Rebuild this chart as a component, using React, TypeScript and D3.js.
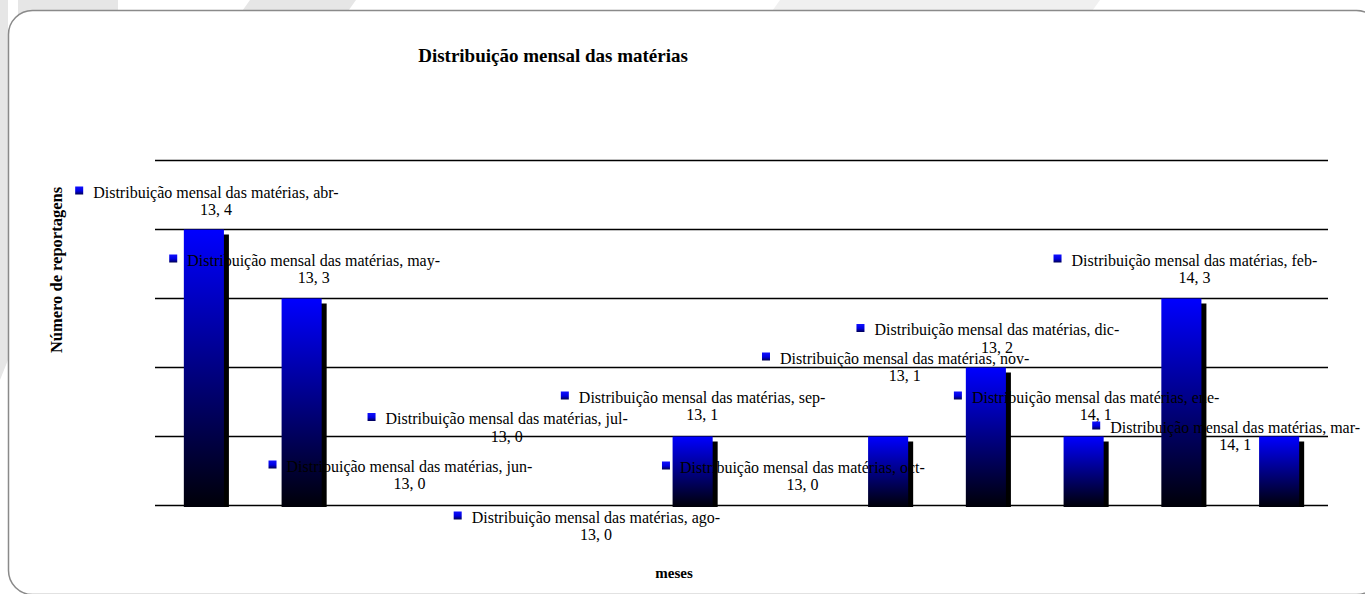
import React, { useEffect, useRef } from 'react';
import * as d3 from 'd3';

const months = ['abr-13', 'may-13', 'jun-13', 'jul-13', 'ago-13', 'sep-13', 'oct-13', 'nov-13', 'dic-13', 'ene-14', 'feb-14', 'mar-14'];
const values = [4, 3, 0, 0, 0, 1, 0, 1, 2, 1, 3, 1];
const seriesName = 'Distribuição mensal das matérias';
const yTicks = [0, 1, 2, 3, 4, 5];
const chartTitle = 'Distribuição mensal das matérias';
const yTitle = 'Número de reportagens';
const xTitle = 'meses';

// label placement offsets (px) relative to bar centre / bar top
const labelDx = [12, 12, 10, 9.5, 1, 9.5, 12, 16.5, 11, 12, 13, -44];
const labelDy = [-14.5, -15.5, -16.5, -64, 34.5, -16.5, -15.5, -55.5, -15, -16.5, -15.5, 13.5];

const W = 1365;
const H = 594;

export default function App() {
  const ref = useRef<SVGSVGElement | null>(null);

  useEffect(() => {
    const svg = d3.select(ref.current);
    svg.selectAll('*').remove();
    const font = "'Liberation Serif', 'Times New Roman', serif";

    const defs = svg.append('defs');
    const g1 = defs.append('linearGradient').attr('id', 'barGrad').attr('x1', 0).attr('y1', 0).attr('x2', 0).attr('y2', 1);
    g1.append('stop').attr('offset', '0%').attr('stop-color', '#0000ff');
    g1.append('stop').attr('offset', '100%').attr('stop-color', '#000008');
    const g2 = defs.append('linearGradient').attr('id', 'mkGrad').attr('x1', 0).attr('y1', 0).attr('x2', 0).attr('y2', 1);
    g2.append('stop').attr('offset', '0%').attr('stop-color', '#1010ff');
    g2.append('stop').attr('offset', '55%').attr('stop-color', '#0000e0');
    g2.append('stop').attr('offset', '100%').attr('stop-color', '#000050');

    // background watermark shapes
    svg.append('rect').attr('x', 0).attr('y', 0).attr('width', W).attr('height', H).attr('fill', '#ffffff');
    const bg = svg.append('g').attr('fill', '#e6e6e6');
    bg.append('polygon').attr('points', '18,0 118,0 118,14 18,14');
    bg.append('polygon').attr('points', '250,0 356,0 346,14 240,14');
    bg.append('polygon').attr('points', '0,0 8,0 8,360 0,380');
    bg.append('polygon').attr('points', '780,0 1100,0 1090,14 770,14').attr('fill', '#f0f0f0');

    // rounded frame
    svg.append('rect')
      .attr('x', 8.5).attr('y', 10.5).attr('width', 1372).attr('height', 584)
      .attr('rx', 24).attr('ry', 24)
      .attr('fill', '#ffffff').attr('stroke', '#8a8a8a').attr('stroke-width', 1.5);

    const x = d3.scaleBand<string>().domain(months).range([155, 1328]).paddingInner(0.59).paddingOuter(0.295);
    const y = d3.scaleLinear().domain([0, 5]).range([505.5, 160.5]);

    // title
    svg.append('text').attr('x', 553).attr('y', 61.5).attr('text-anchor', 'middle')
      .attr('font-family', font).attr('font-weight', 'bold').attr('font-size', 19).attr('fill', '#000')
      .text(chartTitle);

    // gridlines
    svg.append('g').selectAll('line').data(yTicks).join('line')
      .attr('x1', 155).attr('x2', 1328)
      .attr('y1', d => y(d)).attr('y2', d => y(d))
      .attr('stroke', '#000').attr('stroke-width', 1.6);

    // bars (zero values draw nothing)
    const nz = values.map((v, i) => ({ v, i })).filter(d => d.v > 0);
    const bars = svg.append('g');
    bars.selectAll('rect.sh').data(nz).join('rect').attr('class', 'sh')
      .attr('x', d => (x(months[d.i]) as number) + 5)
      .attr('y', d => y(d.v) + 5)
      .attr('width', x.bandwidth())
      .attr('height', d => y(0) - y(d.v) - 3.5)
      .attr('fill', '#000');
    bars.selectAll('rect.bar').data(nz).join('rect').attr('class', 'bar')
      .attr('x', d => x(months[d.i]) as number)
      .attr('y', d => y(d.v))
      .attr('width', x.bandwidth())
      .attr('height', d => y(0) - y(d.v) + 1.5)
      .attr('fill', 'url(#barGrad)');

    // data labels
    const lg = svg.append('g').attr('font-family', font).attr('font-size', 16).attr('fill', '#000');
    values.forEach((v, i) => {
      const [m, yr] = months[i].split('-');
      const cx = (x(months[i]) as number) + x.bandwidth() / 2 + labelDx[i];
      const b2 = y(v) + labelDy[i];
      const b1 = b2 - 17.5;
      const t1 = lg.append('text').attr('x', cx).attr('y', b1).attr('text-anchor', 'middle')
        .text(`${seriesName}, ${m}-`);
      lg.append('text').attr('x', cx).attr('y', b2).attr('text-anchor', 'middle')
        .text(`${yr}, ${v}`);
      const tw = (t1.node() as SVGTextElement).getComputedTextLength();
      lg.append('rect').attr('x', cx - tw / 2 - 18).attr('y', b1 - 11).attr('width', 8).attr('height', 8)
        .attr('fill', 'url(#mkGrad)');
    });

    // axis titles
    svg.append('text').attr('transform', 'translate(62,270) rotate(-90)').attr('text-anchor', 'middle')
      .attr('font-family', font).attr('font-weight', 'bold').attr('font-size', 16.5).attr('fill', '#000')
      .text(yTitle);
    svg.append('text').attr('x', 674).attr('y', 578).attr('text-anchor', 'middle')
      .attr('font-family', font).attr('font-weight', 'bold').attr('font-size', 15).attr('fill', '#000')
      .text(xTitle);
  }, []);

  return (
    <svg ref={ref} width={W} height={H} style={{ position: 'absolute', left: 0, top: 0, display: 'block' }} />
  );
}
